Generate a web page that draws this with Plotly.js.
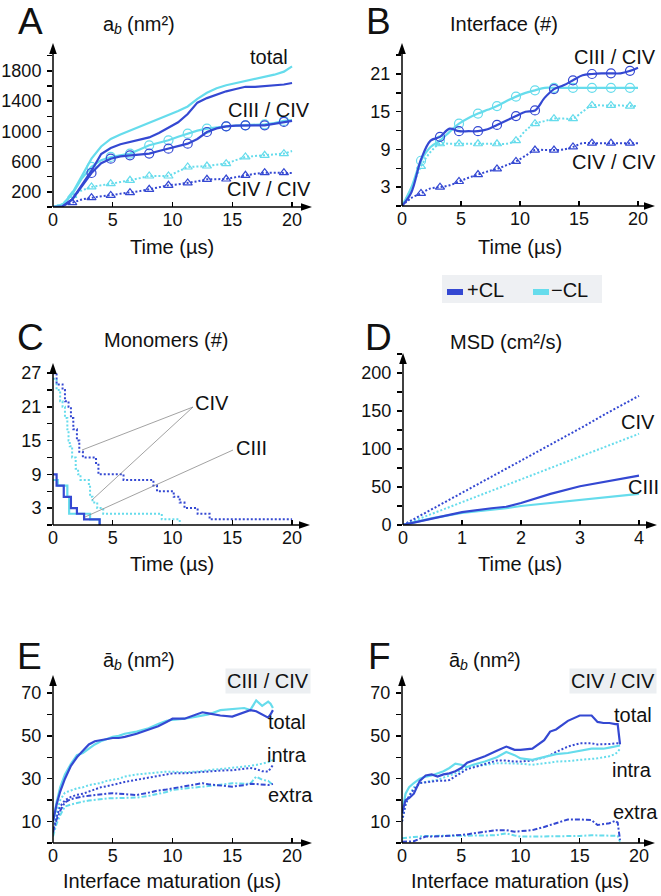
<!DOCTYPE html>
<html><head><meta charset="utf-8">
<script src="https://cdn.plot.ly/plotly-3.0.1.min.js"></script>
<style>html,body{margin:0;padding:0;background:#fff}#chart{width:661px;height:896px}</style>
</head><body><div id="chart"></div>
<script>
// ---------------- DATA ----------------
// Panel A & B common time grid (µs)
const tAB = [0, 0.8, 1.61, 2.42, 3.22, 4.03, 4.83, 5.64, 6.44, 7.25, 8.05, 8.86, 9.66, 10.47, 11.27, 12.08, 12.88, 13.69, 14.49, 15.3, 16.1, 16.91, 17.71, 18.52, 19.32, 20];
// Panel A: a_b (nm^2)
const A_total_plus  = [0, 10, 100, 300, 480, 700, 780, 830, 860, 890, 920, 980, 1050, 1120, 1230, 1380, 1440, 1490, 1530, 1560, 1590, 1590, 1600, 1610, 1620, 1640];
const A_total_minus = [0, 30, 180, 420, 640, 800, 900, 960, 1010, 1060, 1110, 1160, 1210, 1270, 1330, 1430, 1510, 1570, 1610, 1640, 1670, 1700, 1730, 1750, 1790, 1860];
const A_c3c4_plus   = [0, 10, 100, 280, 450, 580, 639, 670, 684, 695, 706, 740, 772, 810, 838, 900, 992, 1040, 1067, 1075, 1080, 1080, 1080, 1100, 1125, 1140];
const A_c3c4_minus  = [0, 30, 170, 380, 530, 620, 662, 680, 706, 760, 816, 850, 882, 930, 970, 1010, 1036, 1055, 1067, 1075, 1080, 1090, 1094, 1110, 1138, 1150];
const A_c4c4_plus   = [0, 20, 57, 100, 123, 140, 154, 170, 190, 210, 234, 260, 287, 300, 318, 340, 366, 368, 370, 395, 419, 440, 454, 454, 454, 450];
const A_c4c4_minus  = [0, 40, 154, 220, 265, 290, 309, 330, 353, 380, 410, 410, 410, 470, 529, 535, 542, 560, 573, 620, 662, 675, 684, 695, 706, 740];
// Panel B: Interface (#)
const B_c3c4_plus  = [0, 2.2, 7.4, 10.4, 11.0, 12.3, 11.9, 11.9, 11.9, 12.2, 12.9, 13.6, 14.3, 15.0, 15.2, 17.2, 18.6, 19.2, 20.0, 20.8, 21.0, 21.1, 21.1, 21.1, 21.5, 22.0];
const B_c3c4_minus = [0, 3.0, 7.2, 9.4, 10.4, 11.8, 13.1, 14.0, 14.7, 15.3, 15.9, 16.7, 17.4, 18.0, 18.4, 18.8, 18.8, 18.8, 18.8, 18.8, 18.8, 18.8, 18.8, 18.8, 18.8, 18.8];
const B_c4c4_plus  = [0, 1.3, 2.0, 2.8, 3.0, 3.3, 3.9, 4.5, 5.0, 5.5, 5.9, 6.5, 7.1, 8.0, 8.9, 8.9, 8.9, 9.0, 9.4, 10.0, 10.0, 10.0, 10.0, 10.0, 10.0, 10.0];
const B_c4c4_minus = [0, 2.8, 6.3, 8.6, 9.9, 9.9, 9.9, 9.9, 9.9, 9.9, 9.9, 9.9, 10.4, 12.0, 13.1, 13.5, 13.9, 13.9, 13.9, 15.0, 16.0, 16.0, 16.0, 16.0, 15.9, 15.9];
// Panel C: Monomers (#), step curves
const C_civ_plus_t  = [0, 0.3, 0.8, 1.0, 1.3, 1.5, 1.7, 2.0, 2.2, 2.5, 3.6, 3.8, 5.9, 8.4, 8.7, 10.1, 10.6, 11.0, 12.1, 13.1, 20];
const C_civ_plus_y  = [27, 25, 24, 22, 21, 19, 17, 15, 13, 12, 11, 9, 8, 7, 6, 5, 4, 3, 2, 1, 1];
const C_civ_minus_t = [0, 0.3, 0.6, 0.8, 1.0, 1.2, 1.3, 1.4, 1.6, 1.9, 2.1, 2.3, 3.0, 3.1, 3.3, 3.7, 4.2, 9.1, 10.6];
const C_civ_minus_y = [26, 24, 22, 21, 19, 17, 15, 14, 12, 10, 9, 8, 7, 5, 4, 3, 2, 1, 0];
const C_ciii_plus_t  = [0, 0.3, 0.9, 1.5, 2.0, 2.6, 3.9];
const C_ciii_plus_y  = [9, 7, 5, 3, 2, 1, 0];
const C_ciii_minus_t = [0, 0.4, 1.2, 1.35, 3.1, 3.9];
const C_ciii_minus_y = [8, 7, 5, 2, 1, 0];
// Panel D: MSD (cm^2/s)
const tD = [0, 0.5, 1, 1.5, 1.75, 2, 2.5, 3, 3.5, 4];
const D_ciii_plus  = [0, 9, 17, 22, 24, 29, 41, 51, 58, 65];
const D_ciii_minus = [0, 9, 16, 20, 22, 25, 29, 33, 37, 41];
const D_civ_plus   = [0, 21, 42, 64, 74, 85, 106, 127, 149, 170];
const D_civ_minus  = [0, 15, 30, 45, 52, 60, 75, 90, 105, 120];
// Panels E & F: mean a_b (nm^2) vs interface maturation (µs)
const tEF = [0, 0.3, 0.6, 1, 1.5, 2, 2.5, 3, 3.5, 4, 4.5, 5, 5.5, 6, 7, 8, 8.8, 9.5, 10, 11, 12, 12.5, 13, 14, 15, 16, 16.5, 17, 17.5, 18, 18.2, 18.4];
const E_total_plus  = [10, 18, 24, 30, 36, 40, 43, 46, 47.5, 48, 48.5, 49, 49, 49.5, 51, 53, 54.5, 56.5, 58, 58, 60, 61, 60.5, 59.5, 59, 61, 62, 61.5, 60, 58.5, 60, 62];
const E_total_minus = [10, 19, 26, 32, 37, 41, 42, 44, 46, 47.5, 48.5, 49.5, 50, 51, 52, 53.5, 55.5, 57, 57.5, 58, 59, 59.5, 60, 62, 62.5, 63, 62, 66.5, 64, 66, 65, 63];
const E_intra_plus  = [5, 12, 17, 20, 21.5, 22.5, 23, 24, 25, 26, 26.5, 27, 27.8, 28.5, 29.5, 30.5, 31.5, 32, 32.5, 32.5, 33, 33.3, 33.5, 33.8, 34, 34.5, 35, 34.5, 33.5, 33.3, 35, 36.4];
const E_intra_minus = [5, 14, 20, 23.5, 24.5, 25.5, 26, 27, 27.5, 28, 29, 29.4, 30, 31, 32, 32.5, 33, 33.3, 33.3, 33, 33.3, 33.5, 34, 34.5, 35, 35.5, 36, 36.4, 37, 37.5, 38, 38.8];
const E_extra_plus  = [5, 11, 15, 19, 20.5, 21.2, 21.7, 22, 22.4, 22.6, 23, 23.2, 23, 22.5, 22.4, 23.5, 24.5, 25, 25.5, 26.5, 27.5, 27.9, 27.4, 26.8, 26.3, 27, 27.6, 27.5, 27.2, 27.1, 27.3, 27.6];
const E_extra_minus = [3, 9, 13, 17, 18, 18.8, 19.3, 19.8, 20.2, 20.5, 20.8, 20.9, 20.9, 20.9, 21.2, 22, 22.8, 23.8, 24.8, 25.5, 26, 26.3, 26.6, 27.2, 27.9, 27.7, 27.6, 31, 29.5, 29, 28, 27.1];
const F_total_plus  = [14, 20, 21, 23, 29, 31.5, 32, 31, 32, 32.5, 33.5, 35, 37.5, 38.5, 40.5, 43, 45, 43.5, 43.5, 44, 48, 52, 53, 57, 59.5, 59.5, 56.5, 56, 56, 55.5, 55.5, 46];
const F_total_minus = [14, 23, 26, 28, 30, 31, 31.5, 32.5, 33.5, 35, 37, 36.5, 35.5, 36.5, 38, 40, 42.5, 41, 39.5, 38.8, 40.3, 41, 41.5, 42, 43, 44, 44, 44, 44.5, 45, 45, 45.5];
const F_intra_plus  = [10, 18, 22, 25, 28, 28.5, 28.7, 29, 29, 29.4, 31, 33, 34.5, 35.2, 37, 38.5, 38.5, 38, 38, 38.5, 40, 41, 42.5, 45, 46.5, 46.5, 46, 46, 46.2, 46.5, 46.5, 46];
const F_intra_minus = [10, 18, 22, 26, 28, 28.5, 29, 29.5, 30.5, 31.5, 32.5, 34, 35.5, 35.7, 36.5, 37.2, 37.2, 37.2, 37, 36.5, 37, 37.5, 38, 38.2, 38.8, 39.2, 39.5, 40, 40.5, 41.5, 42.5, 44];
const F_extra_plus  = [0.6, 0.6, 0.6, 0.8, 2, 3, 3, 3, 3.2, 3.4, 3.5, 3.7, 4, 4.5, 5.3, 6, 6, 5.3, 5.5, 6, 7.5, 8.4, 9.5, 11, 11, 10.7, 8.4, 8.8, 9.2, 10.4, 9.5, 1.4];
const F_extra_minus = [2.2, 2.5, 2.6, 2.8, 3.2, 3.3, 3.3, 3.3, 3.3, 3.3, 3.3, 3.3, 3.3, 3.4, 3.5, 3.7, 4.5, 3.5, 3, 3, 3, 3, 3.1, 3.2, 3.3, 3.6, 3.7, 3.5, 3.4, 3.3, 3.3, 0.6];

// Tick labels (labelled ticks) and minor tick spacing
const ticksTime20 = [0, 5, 10, 15, 20];
const ticksTime4 = [0, 1, 2, 3, 4];
const ticksA_y = [200, 600, 1000, 1400, 1800];
const ticksB_y = [3, 9, 15, 21];
const ticksC_y = [3, 9, 15, 21, 27];
const ticksD_y = [0, 50, 100, 150, 200];
const ticksEF_y = [10, 30, 50, 70];
const minorA = 200, minorB = 3, minorC = 3, minorD = 25, minorEF = 10;
const legendLabels = ['+CL', '\u2212CL'];

// ---------------- STYLE ----------------
const W = 661, H = 896;
const DARK = '#3448d2', CYAN = '#66dcec';
const FONT = 'Liberation Sans, Arial, Helvetica, sans-serif';
const DOT = '2px,2px', DASHDOT = '5px,2px,2px,2px';
const px = v => v / W, py = v => 1 - v / H;

const traces = [];
function line(xa, ya, x, y, color, dash, shape) {
  traces.push({x, y, xaxis: xa, yaxis: ya, type: 'scatter', mode: 'lines',
    line: {color, width: dash === 'solid' ? 2.2 : 2, dash, shape: shape || 'linear'},
    hoverinfo: 'skip', showlegend: false, cliponaxis: false});
}
function marks(xa, ya, x, y, color, symbol, start, size) {
  const keep = (_, i) => i >= start && i % 2 === 0;
  traces.push({x: x.filter(keep), y: y.filter(keep), xaxis: xa, yaxis: ya, type: 'scatter', mode: 'markers',
    marker: {symbol, size, color, line: {color, width: 1.2}}, hoverinfo: 'skip', showlegend: false, cliponaxis: false});
}

// A
line('x', 'y', tAB, A_c4c4_minus, CYAN, DOT); marks('x', 'y', tAB, A_c4c4_minus, CYAN, 'triangle-up-open', 2, 8);
line('x', 'y', tAB, A_c4c4_plus, DARK, DOT); marks('x', 'y', tAB, A_c4c4_plus, DARK, 'triangle-up-open', 2, 8);
line('x', 'y', tAB, A_c3c4_minus, CYAN, 'solid'); marks('x', 'y', tAB, A_c3c4_minus, CYAN, 'circle-open', 4, 9);
line('x', 'y', tAB, A_c3c4_plus, DARK, 'solid'); marks('x', 'y', tAB, A_c3c4_plus, DARK, 'circle-open', 4, 9);
line('x', 'y', tAB, A_total_minus, CYAN, 'solid');
line('x', 'y', tAB, A_total_plus, DARK, 'solid');
// B
line('x2', 'y2', tAB, B_c4c4_minus, CYAN, DOT, 'spline'); marks('x2', 'y2', tAB, B_c4c4_minus, CYAN, 'triangle-up-open', 2, 8);
line('x2', 'y2', tAB, B_c4c4_plus, DARK, DOT, 'spline'); marks('x2', 'y2', tAB, B_c4c4_plus, DARK, 'triangle-up-open', 2, 8);
line('x2', 'y2', tAB, B_c3c4_minus, CYAN, 'solid', 'spline'); marks('x2', 'y2', tAB, B_c3c4_minus, CYAN, 'circle-open', 2, 9);
line('x2', 'y2', tAB, B_c3c4_plus, DARK, 'solid', 'spline'); marks('x2', 'y2', tAB, B_c3c4_plus, DARK, 'circle-open', 4, 9);
// C
line('x3', 'y3', C_civ_minus_t, C_civ_minus_y, CYAN, DOT, 'hv');
line('x3', 'y3', C_civ_plus_t, C_civ_plus_y, DARK, DOT, 'hv');
line('x3', 'y3', C_ciii_minus_t, C_ciii_minus_y, CYAN, 'solid', 'hv');
line('x3', 'y3', C_ciii_plus_t, C_ciii_plus_y, DARK, 'solid', 'hv');
// D
line('x4', 'y4', tD, D_civ_minus, CYAN, DOT);
line('x4', 'y4', tD, D_civ_plus, DARK, DOT);
line('x4', 'y4', tD, D_ciii_minus, CYAN, 'solid');
line('x4', 'y4', tD, D_ciii_plus, DARK, 'solid');
// E
line('x5', 'y5', tEF, E_extra_minus, CYAN, DASHDOT);
line('x5', 'y5', tEF, E_extra_plus, DARK, DASHDOT);
line('x5', 'y5', tEF, E_intra_minus, CYAN, DOT);
line('x5', 'y5', tEF, E_intra_plus, DARK, DOT);
line('x5', 'y5', tEF, E_total_minus, CYAN, 'solid');
line('x5', 'y5', tEF, E_total_plus, DARK, 'solid');
// F
line('x6', 'y6', tEF, F_extra_minus, CYAN, DASHDOT);
line('x6', 'y6', tEF, F_extra_plus, DARK, DASHDOT);
line('x6', 'y6', tEF, F_intra_minus, CYAN, DOT);
line('x6', 'y6', tEF, F_intra_plus, DARK, DOT);
line('x6', 'y6', tEF, F_total_minus, CYAN, 'solid');
line('x6', 'y6', tEF, F_total_plus, DARK, 'solid');

// ---------------- AXES ----------------
const layout = {width: W, height: H, margin: {l: 0, r: 0, t: 0, b: 0},
  paper_bgcolor: '#fff', plot_bgcolor: 'rgba(0,0,0,0)', showlegend: false, hovermode: false,
  font: {family: FONT, size: 18, color: '#111'}, annotations: [], shapes: []};

const panels = [
  {id: '', xd: [53, 312], yd: [207, 43], xr: 21.67, yr: 2169, xt: ticksTime20, yt: ticksA_y, ym: minorA},
  {id: '2', xd: [402, 655], yd: [206, 43], xr: 21.44, yr: 25.93, xt: ticksTime20, yt: ticksB_y, ym: minorB},
  {id: '3', xd: [53, 310], yd: [525, 363], xr: 21.5, yr: 28.8, xt: ticksTime20, yt: ticksC_y, ym: minorC},
  {id: '4', xd: [403, 657], yd: [525, 353], xr: 4.305, yr: 226.3, xt: ticksTime4, yt: ticksD_y, ym: minorD},
  {id: '5', xd: [53, 312], yd: [843, 675], xr: 21.67, yr: 78.4, xt: ticksTime20, yt: ticksEF_y, ym: minorEF},
  {id: '6', xd: [402, 655], yd: [843, 675], xr: 21.35, yr: 78.4, xt: ticksTime20, yt: ticksEF_y, ym: minorEF},
];
function pshape(pts, fill) {
  const d = pts.map((p, i) => (i ? 'L' : 'M') + px(p[0]) + ',' + py(p[1])).join(' ') + ' Z';
  layout.shapes.push({type: 'path', xref: 'paper', yref: 'paper', path: d, fillcolor: fill, line: {width: 0}});
}
function pline(x0, y0, x1, y1, color, width) {
  layout.shapes.push({type: 'line', xref: 'paper', yref: 'paper', x0: px(x0), y0: py(y0), x1: px(x1), y1: py(y1),
    line: {color, width}});
}
panels.forEach(p => {
  const xk = 'xaxis' + p.id, yk = 'yaxis' + p.id, xr = 'x' + p.id, yr = 'y' + p.id;
  layout[xk] = {domain: [px(p.xd[0]), px(p.xd[1])], range: [0, p.xr], anchor: yr, showgrid: false, zeroline: false,
    showline: false, ticks: 'inside', ticklen: 5, tickwidth: 1.3, tickcolor: '#000', tickmode: 'array',
    tickvals: p.xt, ticktext: p.xt.map(String), tickfont: {size: 18, family: FONT, color: '#111'}, automargin: false, fixedrange: true};
  layout[yk] = {domain: [py(p.yd[0]), py(p.yd[1])], range: [0, p.yr], anchor: xr, showgrid: false, zeroline: false,
    showline: false, ticks: 'outside', ticklen: 5, tickwidth: 1.3, tickcolor: '#000', tickmode: 'array',
    tickvals: p.yt, ticktext: p.yt.map(String), tickfont: {size: 18, family: FONT, color: '#111'}, automargin: false, fixedrange: true, ticklabelstandoff: 2,
    minor: {tick0: 0, dtick: p.ym, ticks: 'outside', ticklen: 5, tickwidth: 1.3, tickcolor: '#000', showgrid: false}};
  // axis lines with arrowheads
  const X0 = p.xd[0], Y0 = p.yd[0], X1 = p.xd[1], Y1 = p.yd[1];
  pline(X0, Y0, X1 - 6, Y0, '#000', 1.5);
  pline(X0, Y0, X0, Y1 + 6, '#000', 1.5);
  pshape([[X1, Y0], [X1 - 11, Y0 - 3.8], [X1 - 11, Y0 + 3.8]], '#000');
  pshape([[X0, Y1], [X0 - 3.8, Y1 + 11], [X0 + 3.8, Y1 + 11]], '#000');
});

function txt(text, x, y, size, opts) {
  layout.annotations.push(Object.assign({xref: 'paper', yref: 'paper', x: px(x), y: py(y), text, showarrow: false,
    xanchor: 'center', yanchor: 'middle', font: {family: FONT, size, color: '#111'}}, opts || {}));
}
// title with an italic subscript b, drawn as three plain text pieces
function subTitle(base, x, y) {
  txt(base, x, y, 20, {xanchor: 'left'});
  txt('<i>b</i>', x + 11, y + 5, 14, {xanchor: 'left'});
  txt('(nm\u00b2)', x + 24, y, 20, {xanchor: 'left'});
}
// panel letters
txt('A', 30, 22, 37); txt('B', 378, 22, 37); txt('C', 30, 338, 37);
txt('D', 378, 338, 37); txt('E', 29, 656, 37); txt('F', 380, 656, 37);
// panel titles
subTitle('a', 101, 24);
txt('Interface (#)', 504, 24, 20);
txt('Monomers (#)', 166, 340, 20);
txt('MSD (cm\u00b2/s)', 506, 342, 20);
subTitle('\u0101', 101, 660);
subTitle('\u0101', 447, 660);
// x-axis titles
txt('Time (\u00b5s)', 172, 247, 20); txt('Time (\u00b5s)', 520, 247, 20);
txt('Time (\u00b5s)', 172, 564, 20); txt('Time (\u00b5s)', 520, 564, 20);
txt('Interface maturation (\u00b5s)', 172, 881, 20); txt('Interface maturation (\u00b5s)', 520, 881, 20);
// series labels
txt('total', 269, 57, 20); txt('CIII / CIV', 269, 110, 20); txt('CIV / CIV', 269, 189, 20);
txt('CIII / CIV', 615, 57, 20); txt('CIV / CIV', 614, 162, 20);
txt('CIV', 212, 403, 20); txt('CIII', 251, 448, 20);
txt('CIV', 638, 422, 20); txt('CIII', 643, 487, 20);
txt('total', 287, 722, 20); txt('intra', 287, 755, 20); txt('extra', 290, 795, 20);
txt('total', 633, 715, 20); txt('intra', 632, 770, 20); txt('extra', 635, 812, 20);
txt('CIII / CIV', 268, 681, 20, {bgcolor: '#eceff2', borderpad: 1});
txt('CIV / CIV', 613, 681, 20, {bgcolor: '#eceff2', borderpad: 1});
// leader lines in C
[[193, 407, 82, 450], [193, 407, 92, 500], [233, 450, 85, 517]].forEach(s => pline(s[0], s[1], s[2], s[3], '#8a8a8a', 0.8));
// legend
layout.shapes.push({type: 'rect', xref: 'paper', yref: 'paper', x0: px(442), x1: px(602), y0: py(303), y1: py(275),
  fillcolor: '#eef0f3', line: {width: 0}, layer: 'below'});
layout.shapes.push({type: 'rect', xref: 'paper', yref: 'paper', x0: px(447), x1: px(463), y0: py(295), y1: py(289),
  fillcolor: DARK, line: {width: 0}});
layout.shapes.push({type: 'rect', xref: 'paper', yref: 'paper', x0: px(533), x1: px(549), y0: py(295), y1: py(289),
  fillcolor: CYAN, line: {width: 0}});
txt(legendLabels[0], 465, 290, 20, {xanchor: 'left'});
txt(legendLabels[1], 549, 290, 20, {xanchor: 'left'});

Plotly.newPlot('chart', traces, layout, {staticPlot: true, displayModeBar: false});
</script></body></html>
